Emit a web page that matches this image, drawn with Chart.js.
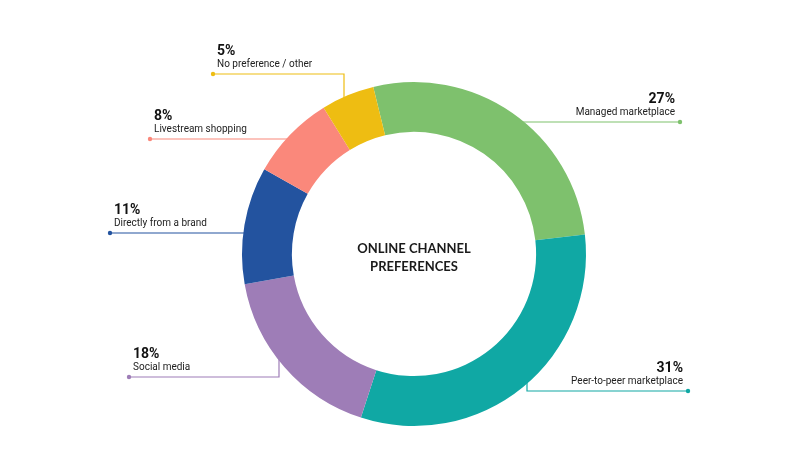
<!DOCTYPE html>
<html>
<head>
<meta charset="utf-8">
<script src="https://cdn.jsdelivr.net/npm/chart.js@4.4.0/dist/chart.umd.min.js"></script>
<style>
  html, body { margin: 0; padding: 0; background: #ffffff; }
  #wrap { width: 800px; height: 458px; position: relative; }
</style>
</head>
<body>
<div id="wrap"><canvas id="c" width="800" height="458"></canvas></div>
<script>
// ---- data ----
const categories = [
  "Managed marketplace",
  "Peer-to-peer marketplace",
  "Social media",
  "Directly from a brand",
  "Livestream shopping",
  "No preference / other"
];
// slice sizes as drawn in the picture (teal slice is drawn slightly larger than its printed label)
const shares = [27, 31.8, 17.2, 11, 8, 5];
// printed labels
const percentLabels = ["27%", "31%", "18%", "11%", "8%", "5%"];
const centerTitle = ["ONLINE CHANNEL", "PREFERENCES"];

// ---- styles / layout ----
const colors = ["#7EC16D", "#10A8A4", "#9E7DB7", "#23539F", "#FA887B", "#EEBD12"];
// label anchor (dot) offsets from the doughnut centre, optional elbow x offset
const labelLayout = [
  { dx: 266,  dy: -132, elbow: null, align: "right" },
  { dx: 274,  dy: 137,  elbow: 113,  align: "right" },
  { dx: -285, dy: 123,  elbow: -135, align: "left" },
  { dx: -304, dy: -21,  elbow: null, align: "left" },
  { dx: -264, dy: -115, elbow: null, align: "left" },
  { dx: -201, dy: -180, elbow: -70,  align: "left" }
];

const calloutPlugin = {
  id: "callouts",
  beforeDatasetsDraw(chart) {
    const arc = chart.getDatasetMeta(0).data[0];
    const cx = arc.x, cy = arc.y, R = arc.outerRadius;
    const ctx = chart.ctx;
    ctx.save();
    ctx.lineWidth = 1.2;
    labelLayout.forEach((L, i) => {
      const px = cx + L.dx, py = cy + L.dy;
      ctx.strokeStyle = colors[i];
      ctx.beginPath();
      ctx.moveTo(px, py);
      if (L.elbow !== null) {
        const ex = cx + L.elbow;
        const ey = cy + Math.sign(L.dy) * (Math.sqrt(R * R - L.elbow * L.elbow) - 3);
        ctx.lineTo(ex, py);
        ctx.lineTo(ex, ey);
      } else {
        const ex = cx + Math.sign(L.dx) * (Math.sqrt(R * R - L.dy * L.dy) - 3);
        ctx.lineTo(ex, py);
      }
      ctx.stroke();
    });
    ctx.restore();
  },
  afterDraw(chart) {
    const arc = chart.getDatasetMeta(0).data[0];
    const cx = arc.x, cy = arc.y;
    const ctx = chart.ctx;
    ctx.save();
    labelLayout.forEach((L, i) => {
      const px = cx + L.dx, py = cy + L.dy;
      ctx.fillStyle = colors[i];
      ctx.beginPath();
      ctx.arc(px, py, 2.2, 0, Math.PI * 2);
      ctx.fill();
      const tx = L.align === "right" ? px - 5 : px + 4;
      ctx.textAlign = L.align;
      ctx.textBaseline = "middle";
      ctx.fillStyle = "#111111";
      ctx.font = "bold 14px Roboto, 'Noto Sans', sans-serif";
      ctx.fillText(percentLabels[i], tx, py - 22.5);
      ctx.fillStyle = "#222222";
      ctx.font = "10px Roboto, 'Noto Sans', sans-serif";
      ctx.fillText(categories[i], tx, py - 9.5);
    });
    ctx.fillStyle = "#1a1a1a";
    ctx.textAlign = "center";
    ctx.textBaseline = "middle";
    ctx.font = "bold 13px Lato, 'Noto Sans', sans-serif";
    ctx.fillText(centerTitle[0], cx, cy - 5);
    ctx.fillText(centerTitle[1], cx, cy + 13);
    ctx.restore();
  }
};

new Chart(document.getElementById("c"), {
  type: "doughnut",
  data: {
    labels: categories,
    datasets: [{
      data: shares,
      backgroundColor: colors,
      borderWidth: 0
    }]
  },
  options: {
    responsive: false,
    animation: false,
    rotation: -13.7,
    cutout: "71%",
    layout: { padding: { top: 82, bottom: 32, left: 28, right: 0 } },
    plugins: {
      legend: { display: false },
      tooltip: { enabled: false }
    }
  },
  plugins: [calloutPlugin]
});
</script>
</body>
</html>
